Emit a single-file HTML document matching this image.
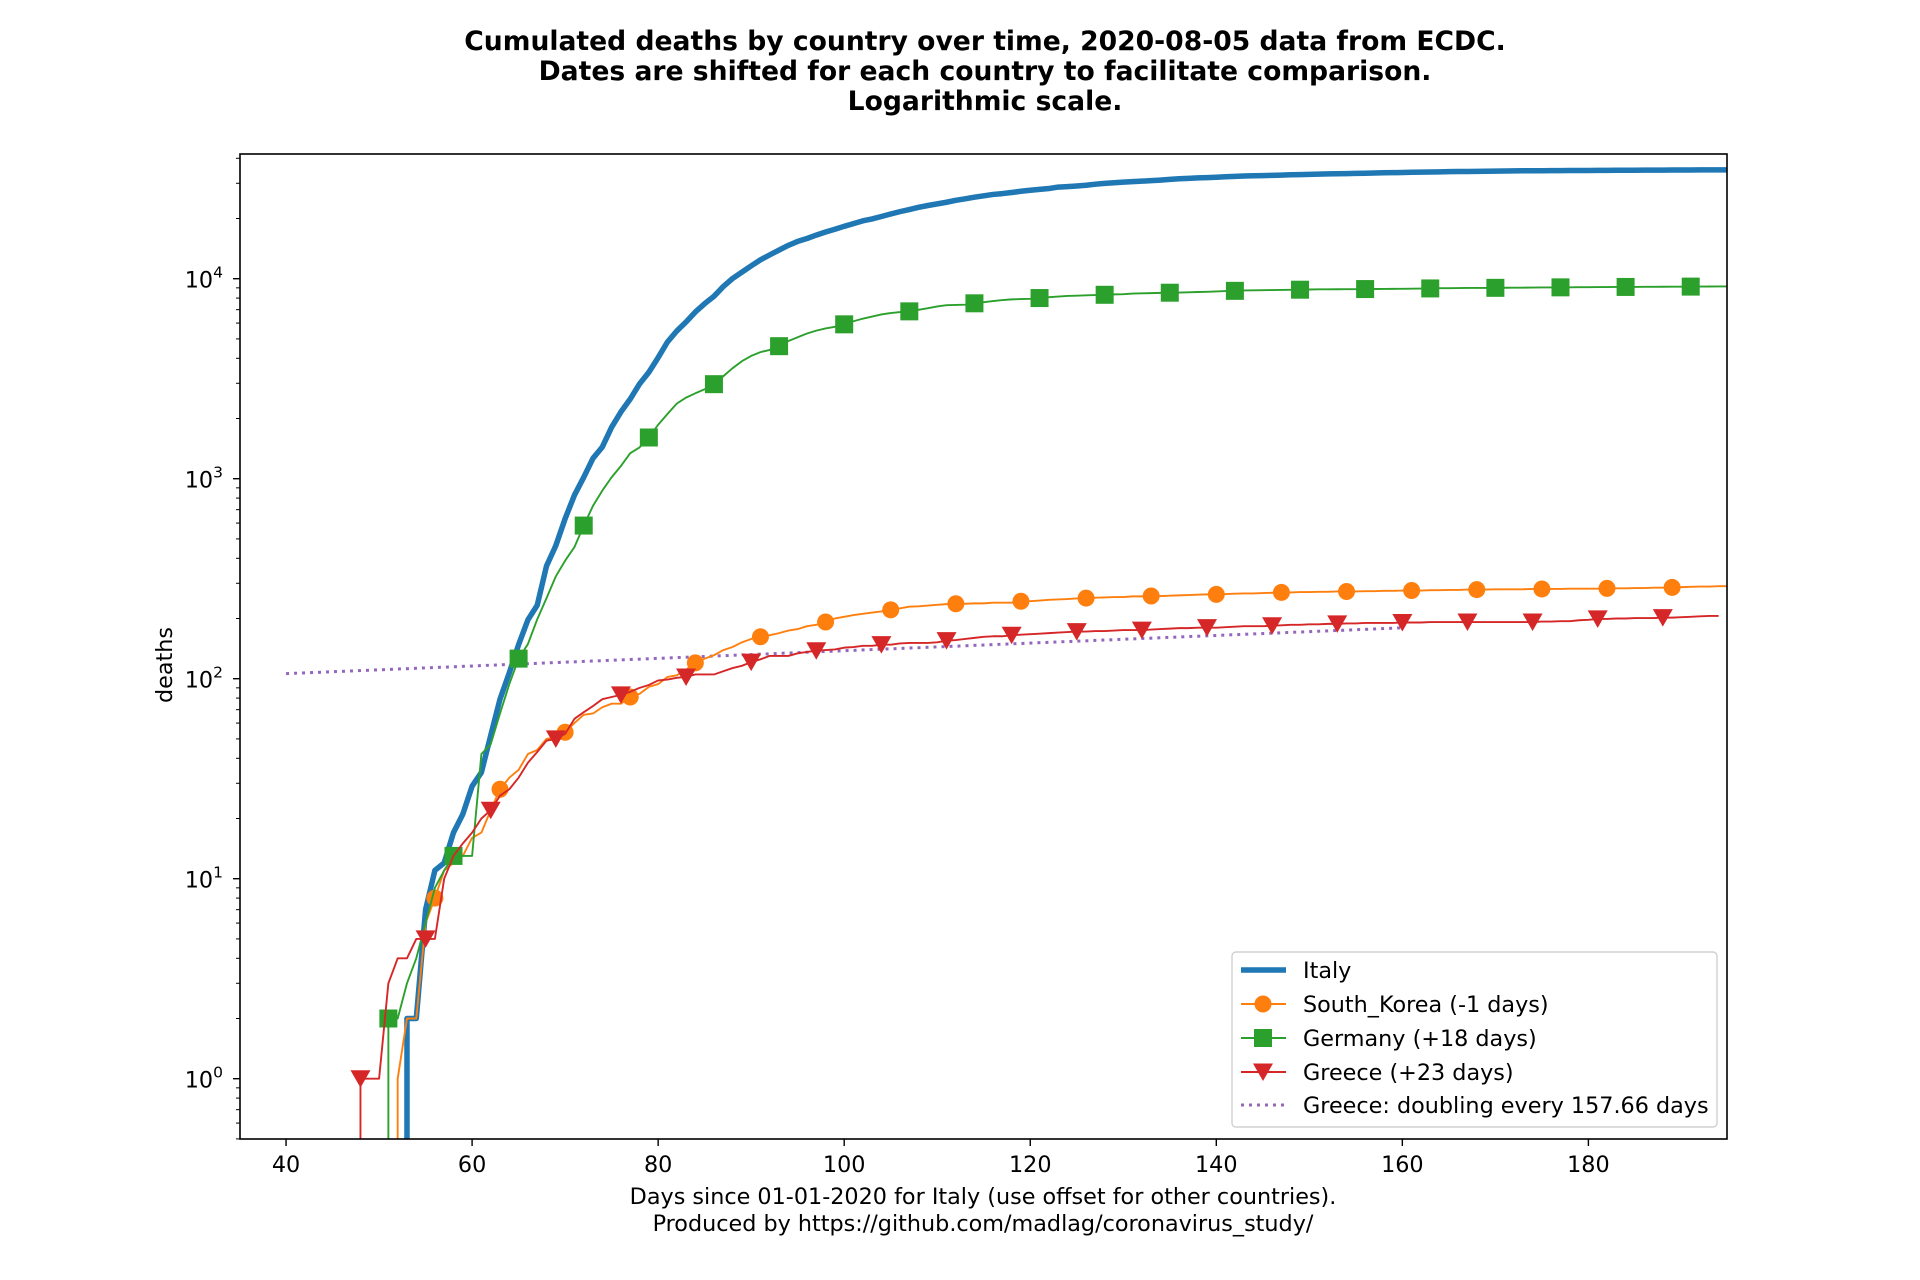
<!DOCTYPE html>
<html><head><meta charset="utf-8"><style>
html,body{margin:0;padding:0;background:#fff;}
svg{display:block;font-family:"DejaVu Sans","Liberation Sans",sans-serif;}
</style></head><body>
<svg id="chart" width="1920" height="1280" viewBox="0 0 1920 1280" xmlns="http://www.w3.org/2000/svg">
<rect width="1920" height="1280" fill="#fff"/>
<g font-weight="bold" font-size="26.6" text-anchor="middle" fill="#000">
<text x="985" y="50">Cumulated deaths by country over time, 2020-08-05 data from ECDC.</text>
<text x="985" y="80">Dates are shifted for each country to facilitate comparison.</text>
<text x="985" y="110">Logarithmic scale.</text>
</g>
<defs><clipPath id="plotclip"><rect x="240" y="154" width="1487" height="985"/></clipPath></defs>
<g id="series" clip-path="url(#plotclip)"></g>
<g id="axes"></g>
<g font-size="22.3" text-anchor="middle" fill="#000">
<text x="983" y="1204">Days since 01-01-2020 for Italy (use offset for other countries).</text>
<text x="983" y="1231">Produced by https://github.com/madlag/coronavirus_study/</text>
</g>
<text font-size="22.3" fill="#000" text-anchor="middle" transform="translate(172,665) rotate(-90)">deaths</text>
<g id="legend"></g>
</svg>
<script>
// ---- data ----
const italyStart = 53;
const italyValues = [2,2,7,11,12,17,21,29,34,52,79,107,148,197,233,366,463,631,827,1016,1266,1441,1809,2158,2503,2978,3405,4032,4825,5476,6077,6820,7503,8165,9134,10023,10779,11591,12428,13155,13915,14681,15362,15887,16523,17127,17669,18279,18849,19468,19899,20465,21067,21645,22170,22745,23227,23660,24114,24648,25085,25549,25969,26384,26644,26977,27359,27682,27967,28236,28710,28884,29079,29315,29684,29958,30201,30395,30560,30739,30911,31106,31368,31610,31763,31908,32007,32169,32330,32486,32616,32735,32785,32877,32955,33072,33142,33229,33340,33415,33475,33530,33601,33689,33774,33846,33899,33964,34043,34114,34167,34223,34301,34345,34371,34405,34448,34514,34561,34610,34634,34657,34675,34708,34716,34738,34744,34767,34788,34818,34854,34861,34869,34899,34914,34926,34938,34945,34967,34984,34997,35017,35028];
// South Korea: first 3 days have 0 deaths (not drawable on log scale)
const koreaStart = 49;
const koreaValues = [0,0,0,1,2,2,6,8,11,12,13,16,17,22,28,32,35,42,44,50,51,54,60,66,67,72,75,75,81,84,91,94,102,104,111,120,126,131,139,144,152,158,162,165,169,174,177,183,186,192,200,204,208,211,214,217,221,225,229,230,232,234,236,237,237,238,238,240,240,240,244,244,246,248,249,250,252,253,254,255,256,256,258,258,259,259,260,261,262,263,264,264,265,266,267,267,268,269,270,270,271,271,272,272,273,273,273,274,274,275,275,276,276,276,277,277,278,278,279,279,279,280,280,280,280,281,281,281,281,282,282,282,282,283,283,283,284,284,285,285,286,287,288,289,289,290,290];
const germanyStart = 51;
const germanyValues = [2,2,3,4,6,9,11,13,13,13,42,47,67,94,126,149,198,253,325,389,455,583,732,872,1017,1158,1342,1434,1607,1861,2107,2373,2544,2673,2799,2969,3254,3569,3868,4110,4294,4404,4598,4879,5094,5321,5500,5640,5750,5913,6126,6314,6467,6623,6736,6812,6866,6993,7119,7266,7369,7395,7417,7533,7634,7735,7824,7881,7914,7935,8003,8081,8144,8203,8228,8261,8283,8309,8350,8366,8428,8450,8470,8494,8511,8522,8551,8581,8602,8635,8674,8695,8736,8752,8760,8772,8783,8800,8810,8830,8846,8851,8856,8863,8867,8875,8882,8887,8895,8899,8914,8927,8940,8961,8968,8981,8986,8990,8995,9002,9010,9016,9022,9032,9041,9048,9052,9060,9064,9072,9078,9086,9090,9095,9099,9108,9112,9116,9120,9126,9130,9135,9141,9145,9148];
const greeceStart = 48;
const greeceValues = [1,1,1,3,4,4,5,5,5,10,13,15,17,20,22,26,28,32,38,43,49,50,53,63,68,73,79,81,83,86,90,93,98,99,101,102,105,105,105,109,113,116,121,125,130,130,130,134,136,138,139,140,143,144,146,146,148,148,150,151,151,151,152,155,156,158,160,162,163,163,165,166,167,168,169,170,171,172,172,173,173,174,175,175,175,176,177,178,179,179,180,180,180,181,182,183,183,183,184,185,186,186,187,187,188,188,189,189,190,190,190,190,191,191,191,192,192,192,192,192,192,192,192,192,192,192,192,193,193,194,194,196,197,199,199,200,200,201,201,201,202,202,203,204,205,206,206];
const fitStartDay = 40, fitEndDay = 160, fitStartValue = 106, fitDoubling = 157.66;
const xTicks = [40,60,80,100,120,140,160,180];
const yDecades = [0,1,2,3,4];
const legendLabels = ["Italy","South_Korea (-1 days)","Germany (+18 days)","Greece (+23 days)","Greece: doubling every 157.66 days"];

// ---- axes ----
const L=240,R=1727,T=154,B=1139;
const XMIN=35.05,XMAX=194.9,YMIN=-0.3015,YMAX=4.6235;
const xs=d=>L+(d-XMIN)/(XMAX-XMIN)*(R-L);
const ys=v=>B-(Math.log10(v)-YMIN)/(YMAX-YMIN)*(B-T);
const NS="http://www.w3.org/2000/svg";
function mk(tag,attrs,parent){const e=document.createElementNS(NS,tag);for(const k in attrs)e.setAttribute(k,attrs[k]);parent.appendChild(e);return e;}
const series=document.getElementById('series'),axes=document.getElementById('axes'),legend=document.getElementById('legend');

function drawSeries(name,start,vals,color,width,marker){
  const g=mk('g',{},series);
  
  
  let pts=[];
  vals.forEach((v,i)=>{
    if(v>0){
      if(pts.length===0)pts.push([xs(start+i),B+20]);
      pts.push([xs(start+i),ys(v)]);
    }
  });
  const p=mk('polyline',{points:pts.map(p=>p.join(',')).join(' '),fill:'none',stroke:color,'stroke-width':width,'stroke-linejoin':'round'},g);
  
  
  if(!marker)return;
  for(let i=0;i<vals.length;i+=7){
    if(!(vals[i]>0))continue;
    const x=xs(start+i),y=ys(vals[i]);let m;
    if(marker==='o')m=mk('circle',{cx:x,cy:y,r:8.5,fill:color},g);
    else if(marker==='s')m=mk('rect',{x:x-9,y:y-9,width:18,height:18,fill:color},g);
    else m=mk('polygon',{points:`${x-10},${y-8.5} ${x+10},${y-8.5} ${x},${y+9}`,fill:color},g);
    
    
  }
}
// fit line
(function(){
  const g=mk('g',{},series);
  
  
  const v2=fitStartValue*Math.pow(2,(fitEndDay-fitStartDay)/fitDoubling);
  const l=mk('line',{x1:xs(fitStartDay),y1:ys(fitStartValue),x2:xs(fitEndDay),y2:ys(v2),stroke:'#9467bd','stroke-width':3,'stroke-dasharray':'3,5'},g);
  
  
})();
drawSeries('italy',italyStart,italyValues,'#1f77b4',5.5,null);
drawSeries('south-korea',koreaStart,koreaValues,'#ff7f0e',1.9,'o');
drawSeries('germany',germanyStart,germanyValues,'#2ca02c',1.9,'s');
drawSeries('greece',greeceStart,greeceValues,'#d62728',1.9,'v');

// frame
const fr=mk('rect',{x:L,y:T,width:R-L,height:B-T,fill:'none',stroke:'#000','stroke-width':1.6},axes);


xTicks.forEach(t=>{
  const x=xs(t);
  const tk=mk('line',{x1:x,y1:B,x2:x,y2:B+7,stroke:'#000','stroke-width':1.4},axes);
  
  
  const tx=mk('text',{x:x,y:B+33,'font-size':22.3,'text-anchor':'middle',fill:'#000'},axes);
  tx.textContent=t;
  
  
});
for(let e=-1;e<=4;e++){
  for(let m=1;m<10;m++){
    const v=m*Math.pow(10,e);const lv=Math.log10(v);
    if(lv<YMIN||lv>YMAX)continue;
    const y=ys(v);const major=m===1;
    const tk=mk('line',{x1:L-(major?7:4),y1:y,x2:L,y2:y,stroke:'#000','stroke-width':major?1.4:1},axes);
    
    
  }
}
yDecades.forEach(d=>{
  const y=ys(Math.pow(10,d));
  const tx=mk('text',{x:223,y:y+9,'font-size':22.3,'text-anchor':'end',fill:'#000'},axes);
  
  
  const a=document.createElementNS(NS,'tspan');a.textContent='10';tx.appendChild(a);
  const b=document.createElementNS(NS,'tspan');b.setAttribute('dy','-10');b.setAttribute('font-size','15.5');b.textContent=d;tx.appendChild(b);
});

// legend
const lb=mk('rect',{x:1232,y:952,width:485,height:175,rx:4,fill:'#fff','fill-opacity':0.8,stroke:'#d0d0d0','stroke-width':1.4},legend);


const rowsY=[970,1004,1038,1072,1105];
const cols=['#1f77b4','#ff7f0e','#2ca02c','#d62728','#9467bd'];
legendLabels.forEach((lab,i)=>{
  const y=rowsY[i];
  const g=mk('g',{},legend);
  
  
  const attrs={x1:1241,y1:y,x2:1286,y2:y,stroke:cols[i],'stroke-width':i===0?5.5:1.9};
  if(i===4){attrs['stroke-dasharray']='3,5';attrs['stroke-width']=3;}
  mk('line',attrs,g);
  const cx=1263;
  if(i===1)mk('circle',{cx:cx,cy:y,r:8.5,fill:cols[i]},g);
  if(i===2)mk('rect',{x:cx-9,y:y-9,width:18,height:18,fill:cols[i]},g);
  if(i===3)mk('polygon',{points:`${cx-10},${y-8.5} ${cx+10},${y-8.5} ${cx},${y+9}`,fill:cols[i]},g);
  const t=mk('text',{x:1303,y:y+8,'font-size':22.3,fill:'#000'},g);
  t.textContent=lab;
});
</script>
</body></html>
